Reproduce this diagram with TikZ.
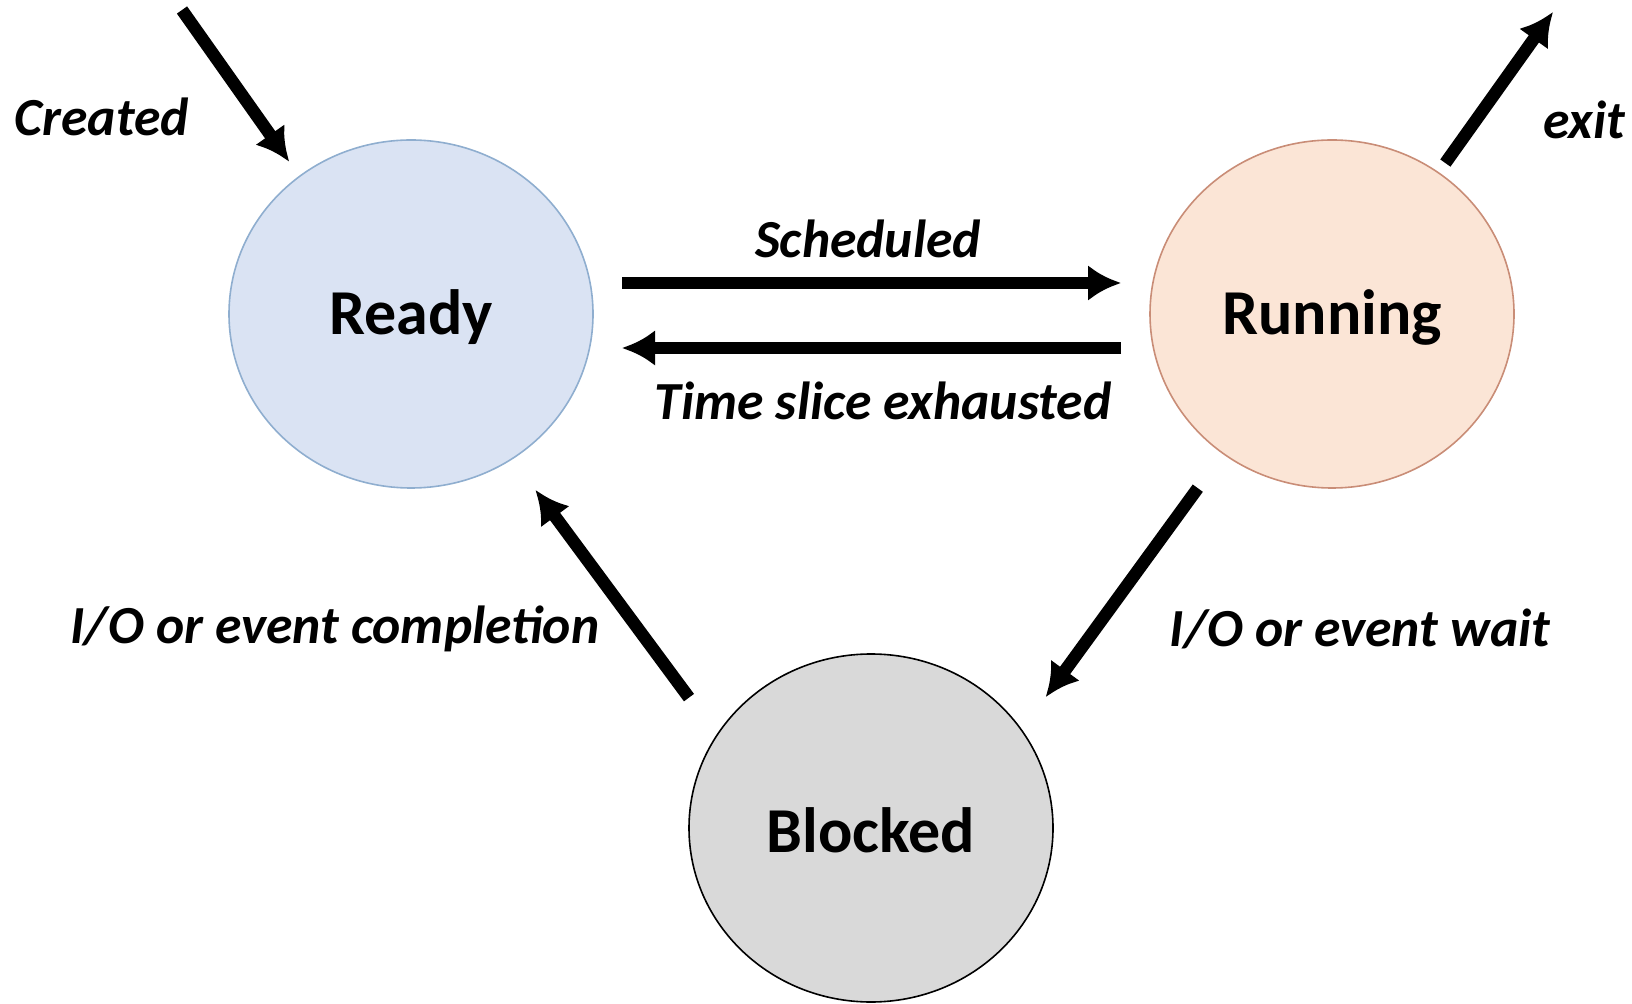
\documentclass[tikz,border=0pt]{standalone}
\usepackage{fontspec}
\setmainfont{Carlito}
\usetikzlibrary{calc,shapes.geometric}
\usetikzlibrary{arrows.meta}
\tikzset{>={Latex[width=18pt,length=16.5pt]}}
\definecolor{readyfill}{HTML}{DAE3F3}
\definecolor{readydraw}{HTML}{8FAECF}
\definecolor{runfill}{HTML}{FBE5D6}
\definecolor{rundraw}{HTML}{C98D77}
\definecolor{blockfill}{HTML}{D9D9D9}

\begin{document}
\begin{tikzpicture}[
x=0.5pt, y=-0.5pt,
state/.style = {ellipse, draw, line width=0.8pt,
                minimum width=182pt, minimum height=174pt,
                inner sep=0pt, outer sep=0pt,
                text height=27pt, text depth=6.5pt,
                font=\fontsize{32}{36}\selectfont\bfseries},
lbl/.style = {font=\fontsize{26.8}{30}\selectfont\bfseries\itshape,
              inner sep=0pt},
trans/.style = {->, line width=6.25pt},
]
        \useasboundingbox (0,0) rectangle (1632,1004);
        \node (ready)   [state, fill=readyfill, draw=readydraw]
                        at (411,314) {Ready};
        \node (running) [state, fill=runfill, draw=rundraw]
                        at (1332,314) {Running};
        \node (blocked) [state, fill=blockfill, draw=black,
                         text height=24pt, text depth=0pt]
                        at (871,828) {Blocked};
        % entry and exit
        \coordinate (new)  at (182,10);
        \coordinate (gone) at (1553,12);
        \draw[trans, shorten >=9pt] (new) -- (ready.129);
        \draw[trans, shorten <=6pt] (running.53.5) -- (gone);
        \node (created) [lbl] at (102,117) {Created};
        \node (exit)    [lbl] at (1584,120) {exit};
        % between ready and running
        \draw[trans, shorten <=14.5pt, shorten >=14.5pt]
             ([yshift=15.5pt]ready.east) -- ([yshift=15.5pt]running.west);
        \draw[trans, shorten <=14.5pt, shorten >=14.5pt]
             ([yshift=-17pt]running.west) -- ([yshift=-17pt]ready.east);
        \node (sched) [lbl] at (868,239) {Scheduled};
        \node (slice) [lbl] at (883,401) {Time slice exhausted};
        % blocked
        \draw[trans, shorten <=21.5pt, shorten >=20.5pt]
             (running.232) -- (blocked.33);
        \draw[trans, shorten <=23.5pt, shorten >=19.5pt]
             (blocked.149) -- (ready.-55);
        \node (iodone) [lbl] at (335,629) {I/O or event completion};
        \node (iowait) [lbl] at (1360,629) {I/O or event wait};
    \end{tikzpicture}
\end{document}
